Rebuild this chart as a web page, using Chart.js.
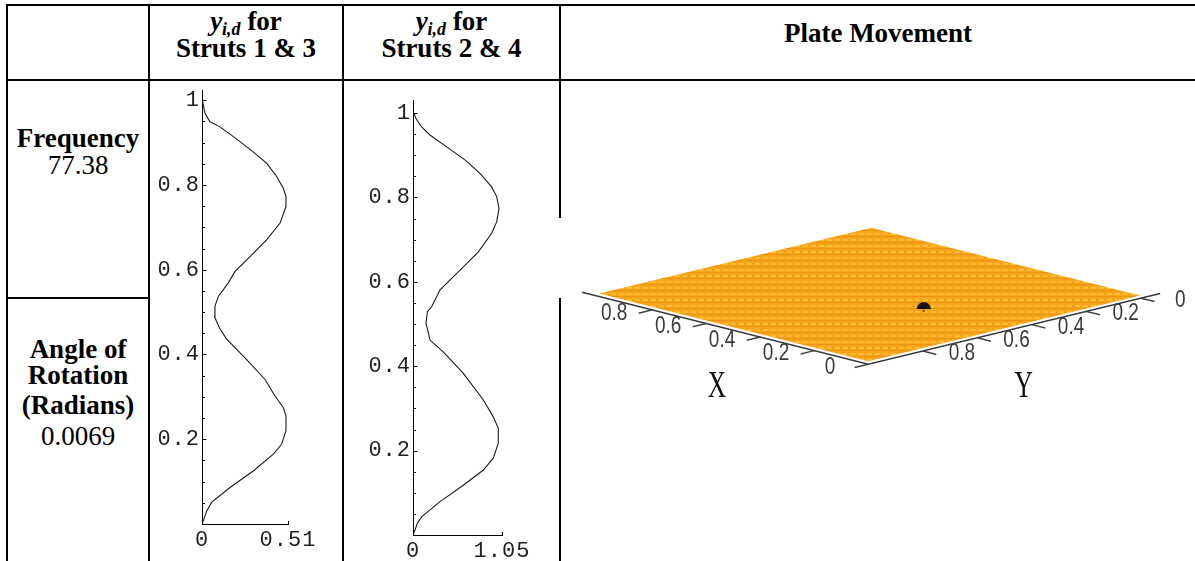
<!DOCTYPE html>
<html><head><meta charset="utf-8">
<script src="https://cdn.jsdelivr.net/npm/chart.js@4.4.1/dist/chart.umd.min.js"></script>
<style>
html,body{margin:0;padding:0;background:#fff;}
#page{position:relative;width:1195px;height:561px;overflow:hidden;background:#fff;}
.ln{position:absolute;background:#000;}
.t{position:absolute;font-family:"Liberation Serif","Times New Roman",serif;font-size:27px;line-height:27px;color:#000;text-align:center;white-space:nowrap;}
.b{font-weight:bold;}
.t sub{font-size:18px;line-height:0;vertical-align:-5px;font-style:italic;}
canvas{position:absolute;}
</style></head>
<body><div id="page">
<div class="ln" style="left:6px;top:4px;width:1189px;height:2px"></div>
<div class="ln" style="left:6px;top:79px;width:1189px;height:2px"></div>
<div class="ln" style="left:6px;top:4px;width:2px;height:557px"></div>
<div class="ln" style="left:148px;top:4px;width:2px;height:557px"></div>
<div class="ln" style="left:342px;top:4px;width:2px;height:557px"></div>
<div class="ln" style="left:559px;top:4px;width:2px;height:214px"></div>
<div class="ln" style="left:559px;top:298px;width:2px;height:263px"></div>
<div class="ln" style="left:6px;top:297px;width:144px;height:2px"></div>

<div class="t b" style="left:150px;top:8px;width:192px"><i>y</i><sub>i,d</sub> for</div>
<div class="t b" style="left:150px;top:35px;width:192px">Struts 1 &amp; 3</div>
<div class="t b" style="left:344px;top:8px;width:215px"><i>y</i><sub>i,d</sub> for</div>
<div class="t b" style="left:344px;top:35px;width:215px">Struts 2 &amp; 4</div>
<div class="t b" style="left:561px;top:20px;width:634px">Plate Movement</div>

<div class="t b" style="left:8px;top:125px;width:140px">Frequency</div>
<div class="t" style="left:8px;top:152px;width:140px">77.38</div>
<div class="t b" style="left:8px;top:336px;width:140px">Angle of</div>
<div class="t b" style="left:8px;top:362px;width:140px">Rotation</div>
<div class="t b" style="left:8px;top:392px;width:140px">(Radians)</div>
<div class="t" style="left:8px;top:423px;width:140px">0.0069</div>

<canvas id="c1" width="192" height="479" style="left:150px;top:82px"></canvas>
<canvas id="c2" width="215" height="479" style="left:344px;top:82px"></canvas>
<canvas id="c3" width="633" height="479" style="left:562px;top:82px"></canvas>
</div>
<script>
// ---------------- data ----------------
const strut13Y = [0, 0.008, 0.031, 0.051, 0.086, 0.125, 0.165, 0.188, 0.220, 0.255, 0.275, 0.302, 0.341, 0.388, 0.437, 0.462, 0.490, 0.514, 0.537, 0.569, 0.596, 0.631, 0.671, 0.710, 0.749, 0.773, 0.792, 0.820, 0.851, 0.878, 0.914, 0.937, 0.949, 0.969, 1.0];
const strut13X = [0, 0.008, 0.028, 0.057, 0.166, 0.304, 0.423, 0.472, 0.498, 0.498, 0.482, 0.433, 0.374, 0.265, 0.145, 0.105, 0.073, 0.077, 0.097, 0.156, 0.196, 0.285, 0.384, 0.463, 0.498, 0.498, 0.482, 0.443, 0.384, 0.304, 0.186, 0.107, 0.047, 0.018, 0.002];
const strut24Y = [0, 0.012, 0.028, 0.043, 0.079, 0.118, 0.154, 0.182, 0.217, 0.253, 0.280, 0.320, 0.383, 0.434, 0.462, 0.480, 0.502, 0.529, 0.541, 0.581, 0.628, 0.671, 0.715, 0.742, 0.774, 0.802, 0.825, 0.857, 0.889, 0.920, 0.948, 0.967, 0.987, 1.0];
const strut24X = [0, 0.024, 0.051, 0.102, 0.319, 0.594, 0.830, 0.947, 1.006, 1.006, 0.947, 0.830, 0.594, 0.357, 0.200, 0.180, 0.153, 0.169, 0.220, 0.319, 0.555, 0.771, 0.928, 0.987, 1.015, 0.987, 0.928, 0.790, 0.613, 0.397, 0.200, 0.102, 0.035, 0.012];
const strut13XTicks = [0, 0.51];
const strut13XTickLabels = ['0', '0.51'];
const strut24XTicks = [0, 1.05];
const strut24XTickLabels = ['0', '1.05'];
const yMajorTicks = [0.2, 0.4, 0.6, 0.8, 1];
const yMajorLabels = ['0.2', '0.4', '0.6', '0.8', '1'];
const yMinorTicks = [0.05, 0.1, 0.15, 0.25, 0.3, 0.35, 0.45, 0.5, 0.55, 0.65, 0.7, 0.75, 0.85, 0.9, 0.95];
const plateTicks = [0, 0.2, 0.4, 0.6, 0.8];
const plateTickLabels = ['0', '0.2', '0.4', '0.6', '0.8'];
const plateLowerEdge = [[1, 1], [0, 1], [0, 0]];   // (X, Y): left, front, right corners
const plateUpperEdge = [[1, 1], [1, 0], [0, 0]];   // left, back, right corners
const jointXY = [0.31, 0.49];

// ---------------- strut mode-shape charts ----------------
const monoFont = {family: '"Liberation Mono", "DejaVu Sans Mono", monospace', size: 22};

const strutTicks = {
  id: 'strutTicks',
  beforeDraw(chart) { chart.ctx.letterSpacing = '1px'; },
  afterDraw(chart, args, opts) {
    const {ctx, scales: {x, y}} = chart;
    const ax = x.getPixelForValue(0), ay = y.getPixelForValue(0);
    ctx.save();
    ctx.strokeStyle = '#000'; ctx.lineWidth = 1;
    ctx.beginPath();
    yMinorTicks.forEach(v => { const p = Math.round(y.getPixelForValue(v)) + 0.5; ctx.moveTo(ax, p); ctx.lineTo(ax + 3, p); });
    yMajorTicks.forEach(v => { const p = Math.round(y.getPixelForValue(v)) + 0.5; ctx.moveTo(ax, p); ctx.lineTo(ax + 4.5, p); });
    opts.xTicks.forEach(v => { const p = Math.round(x.getPixelForValue(v)) + 0.5; ctx.moveTo(p, ay); ctx.lineTo(p, ay - 3); });
    ctx.stroke();
    ctx.restore();
  }
};

function strutChart(id, xs, ys, xTicks, xLabels, geom) {
  return new Chart(document.getElementById(id), {
    type: 'scatter',
    data: {datasets: [{
      data: ys.map((y, i) => ({x: xs[i], y})),
      showLine: true, borderColor: '#1a1a1a', borderWidth: 1.1,
      pointRadius: 0, pointHoverRadius: 0, tension: 0
    }]},
    options: {
      animation: false, responsive: false, devicePixelRatio: 1, events: [],
      layout: {padding: {top: geom.top, right: geom.right, left: 0, bottom: 0}},
      plugins: {legend: {display: false}, tooltip: {enabled: false}, strutTicks: {xTicks}},
      scales: {
        x: {
          type: 'linear', min: 0, max: xTicks[xTicks.length - 1],
          grid: {display: false, drawTicks: false},
          border: {display: true, color: '#000', width: 1},
          ticks: {autoSkip: false, maxRotation: 0, padding: 3, font: monoFont, color: '#222',
            callback: v => { const i = xTicks.findIndex(t => Math.abs(t - v) < 1e-9); return i >= 0 ? xLabels[i] : ''; }},
          afterBuildTicks: s => { s.ticks = xTicks.map(v => ({value: v})); },
          afterFit: s => { s.height = geom.xAxisH; s.paddingLeft = 0; s.paddingRight = 0; }
        },
        y: {
          type: 'linear', min: 0, max: geom.yMax,
          grid: {display: false, drawTicks: false},
          border: {display: true, color: '#000', width: 1},
          ticks: {autoSkip: false, padding: 2, font: monoFont, color: '#222',
            callback: v => { const i = yMajorTicks.findIndex(t => Math.abs(t - v) < 1e-9); return i >= 0 ? yMajorLabels[i] : ''; }},
          afterBuildTicks: s => { s.ticks = yMajorTicks.map(v => ({value: v})); },
          afterFit: s => { s.width = geom.yAxisW; s.paddingTop = 0; s.paddingBottom = 0; }
        }
      }
    },
    plugins: [strutTicks]
  });
}

strutChart('c1', strut13X, strut13Y, strut13XTicks, strut13XTickLabels,
  {top: 8, right: 54, xAxisH: 37, yAxisW: 52, yMax: 1.024});
strutChart('c2', strut24X, strut24Y, strut24XTicks, strut24XTickLabels,
  {top: 18, right: 57, xAxisH: 26, yAxisW: 69, yMax: 1.031});

// ---------------- plate movement (projected 3D view) ----------------
const VIEW = {ux: -2.76, uy: -2.79, u0: 2.79, vx: 0.70, vy: -0.68, v0: 0.68, vz: 1.0,
              uMin: -3.06, uMax: 3.27, vMin: -1.98, vMax: 2.81};
function proj(X, Y, Z = 0) {
  return {x: VIEW.ux * X + VIEW.uy * Y + VIEW.u0, y: VIEW.vx * X + VIEW.vy * Y + VIEW.v0 + VIEW.vz * Z};
}
const gap = {x: NaN, y: NaN};
const axisZ = -0.025;

const c3 = document.getElementById('c3');
function makeTexture() {
  const c = document.createElement('canvas'); c.width = 8; c.height = 6;
  const g = c.getContext('2d');
  g.fillStyle = '#F6A41A'; g.fillRect(0, 0, 8, 6);
  g.fillStyle = '#FDBE34'; g.fillRect(1, 1, 5, 2);
  g.fillStyle = '#EC9410'; g.fillRect(0, 4, 8, 1);
  return c3.getContext('2d').createPattern(c, 'repeat');
}
function makeJoint() {
  const c = document.createElement('canvas'); c.width = 16; c.height = 12;
  const g = c.getContext('2d');
  g.fillStyle = '#111';
  g.beginPath(); g.moveTo(1, 8); g.arc(8, 8, 7, Math.PI, 0); g.closePath(); g.fill();
  g.fillStyle = '#7a4a08'; g.fillRect(7, 9, 2, 2);
  return c;
}

const xTickSegs = [], yTickSegs = [];
plateTicks.forEach(v => { xTickSegs.push(proj(v, 1, axisZ), proj(v, 1.05, axisZ), gap); });
plateTicks.forEach(v => { yTickSegs.push(proj(0, v, axisZ), proj(-0.05, v, axisZ), gap); });

const plateText = {
  id: 'plateText',
  afterDatasetsDraw(chart) {
    const {ctx, scales: {x, y}} = chart;
    ctx.save();
    ctx.fillStyle = '#3a3a3a'; ctx.textAlign = 'center'; ctx.textBaseline = 'middle';
    ctx.font = '20px "Liberation Sans", Arial, sans-serif';
    const put = (s, p, sx, sy) => {
      ctx.save();
      ctx.translate(x.getPixelForValue(p.x), y.getPixelForValue(p.y));
      ctx.scale(sx, sy);
      ctx.fillText(s, 0, 0);
      ctx.restore();
    };
    plateTicks.forEach((v, i) => {
      put(plateTickLabels[i], proj(v, 1.14, 0.035), 0.95, 1.15);
      put(plateTickLabels[i], proj(-0.145, v, 0.05), 0.95, 1.15);
    });
    ctx.fillStyle = '#111';
    ctx.font = '30px "Liberation Serif", serif';
    put('X', proj(0.53, 1.03, -0.61), 0.85, 1.25);
    put('Y', proj(-0.03, 0.46, -0.61), 0.85, 1.25);
    ctx.restore();
  }
};

new Chart(c3, {
  type: 'scatter',
  data: {datasets: [
    {data: plateLowerEdge.map(([X, Y]) => proj(X, Y)), showLine: true, fill: false,
     borderColor: 'rgba(255,255,255,0.9)', borderWidth: 1, pointRadius: 0, order: 10},
    {data: plateUpperEdge.map(([X, Y]) => proj(X, Y)), showLine: true, fill: '-1',
     backgroundColor: makeTexture(), borderWidth: 0, borderColor: 'rgba(0,0,0,0)', pointRadius: 0, order: 11},
    {data: [proj(1.06, 1, axisZ), proj(0, 1, axisZ), proj(0, -0.07, axisZ)], showLine: true,
     borderColor: '#3a3a3a', borderWidth: 1.6, pointRadius: 0, order: 2},
    {data: xTickSegs, showLine: true, spanGaps: false, borderColor: '#444', borderWidth: 1.5, pointRadius: 0, order: 2},
    {data: yTickSegs, showLine: true, spanGaps: false, borderColor: '#444', borderWidth: 1.5, pointRadius: 0, order: 2},
    {data: [proj(jointXY[0], jointXY[1])], showLine: false, pointStyle: makeJoint(), pointRadius: 6, order: 0}
  ]},
  options: {
    animation: false, responsive: false, devicePixelRatio: 1, events: [],
    layout: {padding: 0},
    plugins: {legend: {display: false}, tooltip: {enabled: false}},
    scales: {
      x: {type: 'linear', display: false, min: VIEW.uMin, max: VIEW.uMax},
      y: {type: 'linear', display: false, min: VIEW.vMin, max: VIEW.vMax}
    }
  },
  plugins: [plateText]
});
</script>
</body></html>
